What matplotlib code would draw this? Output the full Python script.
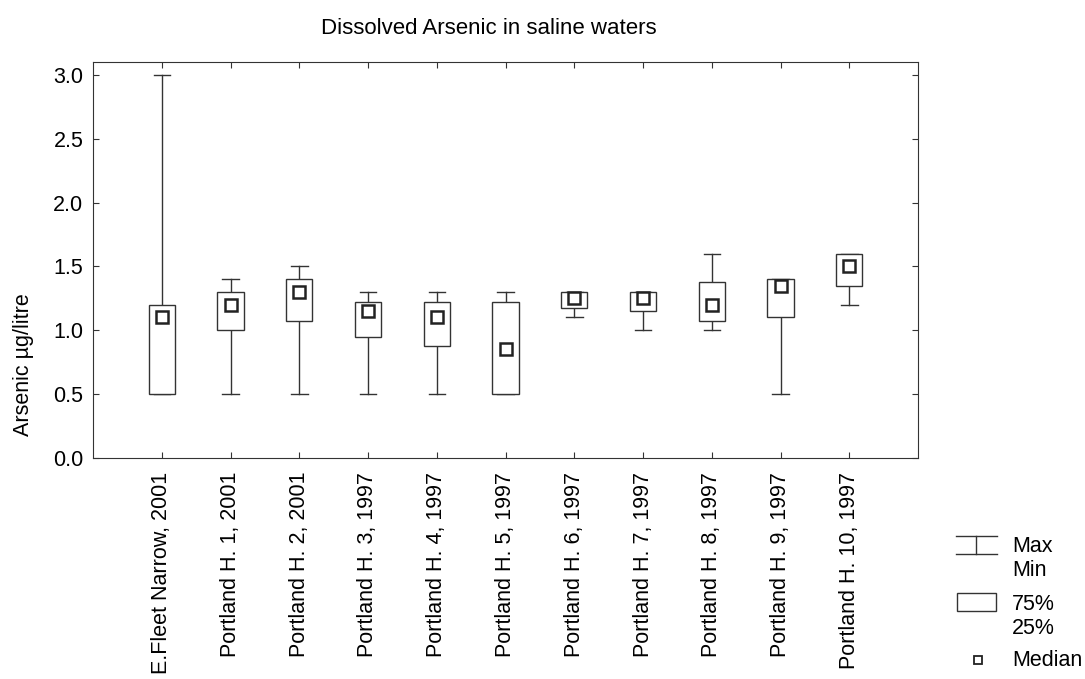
import numpy as np
import matplotlib.pyplot as plt

plt.rcParams['font.family'] = ['Liberation Sans', 'DejaVu Sans']

sites = ['E.Fleet Narrow, 2001', 'Portland H. 1, 2001', 'Portland H. 2, 2001',
         'Portland H. 3, 1997', 'Portland H. 4, 1997', 'Portland H. 5, 1997',
         'Portland H. 6, 1997', 'Portland H. 7, 1997', 'Portland H. 8, 1997',
         'Portland H. 9, 1997', 'Portland H. 10, 1997']
maxs = [3.0, 1.4, 1.5, 1.3, 1.3, 1.3, 1.3, 1.3, 1.6, 1.4, 1.6]
q3s = [1.2, 1.3, 1.4, 1.225, 1.225, 1.225, 1.3, 1.3, 1.375, 1.4, 1.6]
medians = [1.1, 1.2, 1.3, 1.15, 1.1, 0.85, 1.25, 1.25, 1.2, 1.35, 1.5]
q1s = [0.5, 1.0, 1.075, 0.95, 0.875, 0.5, 1.175, 1.15, 1.075, 1.1, 1.35]
mins = [0.5, 0.5, 0.5, 0.5, 0.5, 0.5, 1.1, 1.0, 1.0, 0.5, 1.2]

W, H = 1085, 679
lc = '#333333'
fs = 15.5
fig = plt.figure(figsize=(W/100, H/100), dpi=100)
ax = fig.add_axes([93/W, 1-458/H, (918-93)/W, (458-62)/H])

pos = np.arange(1, len(sites)+1)
bw = 0.38
cw = 0.24
for x, mx, a, m, b, mn in zip(pos, maxs, q3s, medians, q1s, mins):
    # whiskers
    ax.plot([x, x], [a, mx], color=lc, lw=1)
    ax.plot([x, x], [mn, b], color=lc, lw=1)
    ax.plot([x-cw/2, x+cw/2], [mx, mx], color=lc, lw=1)
    ax.plot([x-cw/2, x+cw/2], [mn, mn], color=lc, lw=1)
    # box
    ax.add_patch(plt.Rectangle((x-bw/2, b), bw, a-b, facecolor='white',
                               edgecolor=lc, lw=1, zorder=3))
    ax.plot(x, m, marker='s', ms=8, mfc='white', mec='#222222', mew=1.8, zorder=4)

ax.set_xlim(0, 12)
ax.set_ylim(0, 3.1)
ax.set_xticks(pos)
ax.set_xticklabels(sites, rotation=90, fontsize=fs)
yt = np.arange(0, 3.01, 0.5)
ax.set_yticks(yt)
ax.set_yticklabels(['%.1f' % v for v in yt], fontsize=fs)
ax.tick_params(direction='in', top=True, right=True, length=4, color=lc)
ax.tick_params(axis='x', pad=10)
ax.tick_params(axis='y', pad=7)
for s in ax.spines.values():
    s.set_color(lc)
ax.set_ylabel('Arsenic µg/litre', fontsize=fs)
ax.yaxis.set_label_coords(-0.0715, 0.235)
fig.text(489/W, 1-28/H, 'Dissolved Arsenic in saline waters', fontsize=16,
         ha='center', va='center')

# legend, drawn in figure pixel coordinates
lg = fig.add_axes([0, 0, 1, 1], zorder=-1)
lg.set_xlim(0, W)
lg.set_ylim(H, 0)
lg.axis('off')
lg.plot([956, 997], [536, 536], color=lc, lw=1)
lg.plot([956, 997], [554, 554], color=lc, lw=1)
lg.plot([976, 976], [536, 554], color=lc, lw=1)
lg.text(1012, 547, 'Max', va='center', ha='left', fontsize=fs)
lg.text(1012, 570, 'Min', va='center', ha='left', fontsize=fs)
lg.add_patch(plt.Rectangle((957, 593), 39, 18, fill=False, edgecolor=lc, lw=1))
lg.text(1012, 605, '75%', va='center', ha='left', fontsize=fs)
lg.text(1012, 628, '25%', va='center', ha='left', fontsize=fs)
lg.plot(978, 660, marker='s', ms=6, mfc='white', mec='#222222', mew=1.3)
lg.text(1012, 660, 'Median', va='center', ha='left', fontsize=fs)

fig.savefig('out.png', dpi=100)
